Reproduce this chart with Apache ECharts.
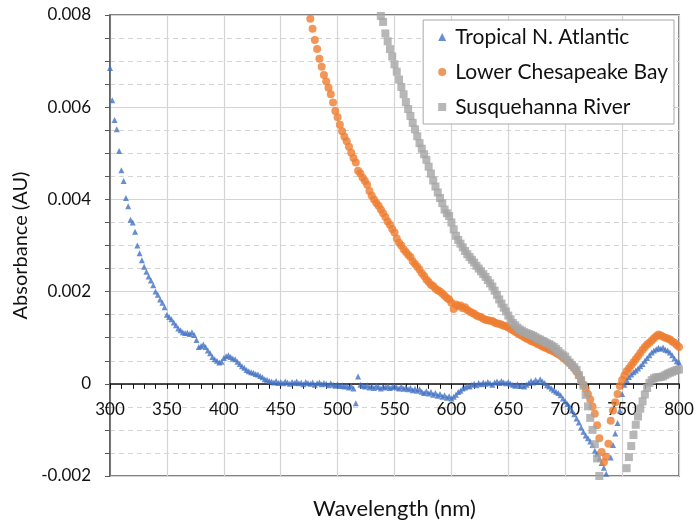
<!DOCTYPE html>
<html><head><meta charset="utf-8">
<script src="https://cdn.jsdelivr.net/npm/echarts@6/dist/echarts.min.js"></script>
<style>html,body{margin:0;padding:0;background:#fff}#c{width:694px;height:523px}</style>
</head><body><div id="c"></div><script>
// Absorbance values are given in units of 1e-5 AU, sampled every STEP nm from each start wavelength
const UNIT = 1e-5;
const STEP = 2;

const seriesNames = ['Tropical N. Atlantic', 'Lower Chesapeake Bay', 'Susquehanna River'];

const atlanticStart = 300;
const atlanticValues = [
  685,615,572,552,505,463,440,403,385,356,
  350,330,300,283,268,254,243,233,224,214,
  200,193,183,176,166,150,145,140,133,127,
  120,116,112,110,111,108,112,106,95,80,
  82,85,80,72,66,58,53,50,46,48,
  56,60,62,58,55,53,48,43,38,35,
  30,27,25,24,21,20,17,14,10,9,
  6,5,3,6,2,4,1,5,3,0,
  4,2,5,1,3,-1,4,2,0,3,
  -2,1,3,-1,2,0,-3,1,-2,-4,
  -1,-5,-3,-6,-4,-8,-5,-10,-42,16,
  -2,-4,-6,-3,-8,-5,-9,-4,-7,-10,
  -6,-8,-5,-9,-7,-5,-8,-10,-6,-11,
  -8,-12,-9,-14,-11,-15,-12,-17,-20,-16,
  -21,-18,-24,-20,-26,-22,-28,-25,-30,-27,
  -32,-28,-24,-18,-15,-10,-8,-4,-6,-2,
  0,-3,2,-1,3,0,4,1,-2,3,
  5,2,6,3,1,4,0,-2,-4,-1,
  -5,-3,-6,-2,2,6,3,8,4,10,
  5,2,-3,-6,-10,-14,-17,-20,-25,-32,
  -38,-44,-50,-58,-66,-75,-84,-95,-104,-112,
  -118,-125,-133,-145,-152,-162,-172,-182,-195,-215,
  -160,-133,-108,-85,-58,-22,-2,8,15,20,
  25,29,33,38,43,50,56,62,68,72,
  75,78,76,79,74,72,68,62,55,49,
  46
];

const chesapeakeStart = 476;
const chesapeakeValues = [
  792,770,746,726,705,688,670,656,642,628,
  610,592,578,562,548,536,526,514,501,490,
  480,462,456,447,440,432,418,408,400,392,
  386,378,370,362,352,345,336,328,315,306,
  300,292,286,280,275,266,260,254,248,240,
  234,226,221,215,212,206,203,200,196,191,
  186,183,176,162,172,168,170,164,166,160,
  157,154,152,148,146,145,141,139,138,137,
  136,133,131,130,128,126,125,122,119,116,
  113,110,107,104,101,98,96,93,91,89,
  86,84,81,79,77,74,72,70,67,64,
  61,57,53,49,45,39,33,26,18,8,
  -2,-11,-22,-34,-49,-65,-90,-118,-148,-170,
  -158,-130,-80,-58,-40,-22,-5,8,18,27,
  33,40,47,53,60,67,74,80,85,89,
  94,99,103,107,105,102,100,98,96,92,
  89,84,80
];

const susquehannaStart = 538;
const susquehannaValues = [
  798,
  785,760,743,726,710,693,677,660,644,628,
  611,596,581,566,552,537,522,510,498,486,
  471,456,441,428,415,403,392,378,370,364,
  350,335,321,312,304,296,288,281,275,269,
  263,256,250,244,238,232,225,218,211,202,
  193,183,174,165,157,148,140,132,127,122,
  118,115,112,110,108,106,104,101,98,96,
  93,91,88,86,83,80,76,71,66,62,
  59,52,46,41,36,30,19,8,-4,-24,
  -49,-74,-100,-131,-162,-200,-230,-260,-280,-290,
  -295,-295,-290,-280,-260,-235,-205,-183,-159,-135,
  -111,-89,-71,-54,-38,-23,-9,2,8,12,
  14,14,15,16,19,22,24,26,28,30,
  31
];

const xMin = 300, xMax = 800, xInterval = 50;
const yMin = -0.002, yMax = 0.008, yInterval = 0.002;

function toPairs(start, values) {
  return values.map((v, i) => [start + i * STEP, v * UNIT]);
}

const FONT = 'Lato';
const GRID_COLOR = '#d4d4d4';
const GRID = {left: 110, right: 15, top: 15, bottom: 47};

const chart = echarts.init(document.getElementById('c'), null, {renderer: 'canvas'});
const option = {
  animation: false,
  backgroundColor: '#fff',
  textStyle: {fontFamily: FONT},
  grid: Object.assign({containLabel: false, outerBoundsMode: 'none', show: true,
    borderColor: '#5a5a5a', borderWidth: 1.5, backgroundColor: 'transparent'}, GRID),
  legend: {
    orient: 'vertical', right: 20, top: 20,
    backgroundColor: '#fff', borderColor: '#a8a8a8', borderWidth: 1,
    padding: [5, 6, 5, 15], itemGap: 11, itemWidth: 8, itemHeight: 8,
    textStyle: {fontFamily: FONT, fontSize: 21, color: '#111', lineHeight: 24, padding: [0, 0, 0, 4]},
    data: [
      {name: seriesNames[0], icon: 'triangle'},
      {name: seriesNames[1], icon: 'circle'},
      {name: seriesNames[2], icon: 'rect'}
    ]
  },
  xAxis: {
    type: 'value', min: xMin, max: xMax, interval: xInterval,
    name: 'Wavelength (nm)', nameLocation: 'middle', nameGap: 114,
    nameTextStyle: {fontFamily: FONT, fontSize: 22, color: '#111'},
    offset: 0,
    axisLine: {show: true, onZero: false, lineStyle: {color: '#111', width: 1.5}},
    axisTick: {show: true, length: 5, lineStyle: {color: '#111', width: 1}},
    minorTick: {show: true, splitNumber: 5, length: 5, lineStyle: {color: '#111', width: 1}},
    splitLine: {show: true, lineStyle: {color: GRID_COLOR, width: 1.2}},
    axisLabel: {fontFamily: FONT, fontSize: 17, color: '#111', margin: 17}
  },
  yAxis: {
    type: 'value', min: yMin, max: yMax, interval: yInterval,
    name: 'Absorbance (AU)', nameLocation: 'middle', nameGap: 78,
    nameTextStyle: {fontFamily: FONT, fontSize: 20, color: '#111'},
    axisLine: {show: true, lineStyle: {color: '#5a5a5a', width: 1.5}},
    axisTick: {show: true, length: 5, lineStyle: {color: '#5a5a5a', width: 1}},
    minorTick: {show: true, splitNumber: 4, length: 5, lineStyle: {color: '#5a5a5a', width: 1}},
    splitLine: {show: true, lineStyle: {color: GRID_COLOR, width: 1.2}},
    minorSplitLine: {show: true, lineStyle: {color: GRID_COLOR, width: 1, type: [5, 4]}},
    axisLabel: {fontFamily: FONT, fontSize: 17, color: '#111', margin: 19,
      formatter: v => (Math.abs(v) < 1e-12 ? '0' : v.toFixed(3))}
  },
  series: [
    {name: seriesNames[0], type: 'scatter', symbol: 'triangle', symbolSize: 6,
     itemStyle: {color: '#4472C4'}, data: toPairs(atlanticStart, atlanticValues)},
    {name: seriesNames[1], type: 'scatter', symbol: 'circle', symbolSize: 8,
     itemStyle: {color: '#ED7D31'}, data: toPairs(chesapeakeStart, chesapeakeValues)},
    {name: seriesNames[2], type: 'scatter', symbol: 'rect', symbolSize: 8,
     itemStyle: {color: '#A5A5A5'}, data: toPairs(susquehannaStart, susquehannaValues)}
  ]
};
chart.setOption(option);
// Move the x axis (line, ticks, labels) up to the y = 0 position, as in the reference
const zeroPx = chart.convertToPixel({yAxisIndex: 0}, 0);
const bottomPx = chart.convertToPixel({yAxisIndex: 0}, yMin);
chart.setOption({xAxis: {offset: zeroPx - bottomPx}});
</script></body></html>
